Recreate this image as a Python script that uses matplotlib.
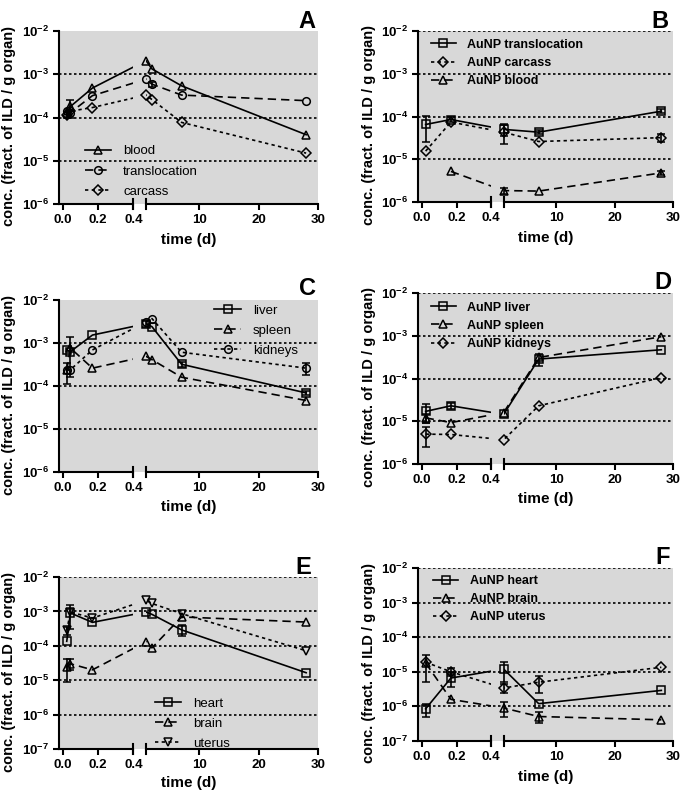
import numpy as np
import matplotlib
matplotlib.use('Agg')
from matplotlib import pyplot as plt
from matplotlib.lines import Line2D
from matplotlib.ticker import FixedLocator, FuncFormatter, NullLocator

plt.rcParams['font.family'] = ['Liberation Sans', 'DejaVu Sans']
plt.rcParams['mathtext.fontset'] = 'custom'
plt.rcParams['mathtext.bf'] = 'Liberation Sans:bold'
plt.rcParams['mathtext.rm'] = 'Liberation Sans'

nan = np.nan

# time points (days)
t_left = [0.021, 0.042, 0.167, 1, 2, 7, 28]
t_right = [0.021, 0.167, 1, 7, 28]

# A
a_blood = [1.25e-4, 1.8e-4, 4.8e-4, 2.07e-3, 1.33e-3, 5.4e-4, 4.0e-5]
a_blood_err = [nan, 0.8e-4, nan, nan, nan, nan, nan]
a_transl = [1.4e-4, 1.3e-4, 3.2e-4, 7.7e-4, 5.9e-4, 3.3e-4, 2.45e-4]
a_transl_err = [nan, nan, nan, nan, 0.8e-4, nan, nan]
a_carcass = [1.15e-4, 1.4e-4, 1.7e-4, 3.3e-4, 2.6e-4, 7.7e-5, 1.5e-5]
a_carcass_err = [0.2e-4, nan, nan, nan, nan, nan, nan]

# B
b_transl = [6.5e-5, 8.5e-5, 5.0e-5, 4.3e-5, 1.33e-4]
b_transl_err = [4e-5, 1e-5, 1.5e-5, 0.5e-5, 1.5e-5]
b_carcass = [1.55e-5, 7.4e-5, 4.3e-5, 2.6e-5, 3.2e-5]
b_carcass_err = [nan, nan, 2e-5, nan, 0.6e-5]
b_blood = [nan, 5.2e-6, 1.85e-6, 1.8e-6, 4.8e-6]
b_blood_err = [nan, nan, 0.3e-6, nan, 0.6e-6]

# C
c_liver = [6.9e-4, 6.3e-4, 1.53e-3, 2.8e-3, 2.4e-3, 3.2e-4, 6.9e-5]
c_liver_err = [nan, nan, nan, 0.4e-3, nan, 0.4e-4, 0.6e-5]
c_spleen = [2.3e-4, 7.6e-4, 2.6e-4, 4.9e-4, 4.1e-4, 1.6e-4, 4.6e-5]
c_spleen_err = [nan, 6e-4, nan, nan, nan, nan, nan]
c_kidneys = [2.3e-4, 2.4e-4, 6.9e-4, 3.1e-3, 3.7e-3, 6.1e-4, 2.6e-4]
c_kidneys_err = [1.2e-4, nan, nan, nan, nan, nan, 0.8e-4]

# D
d_liver = [1.7e-5, 2.3e-5, 1.45e-5, 2.85e-4, 4.7e-4]
d_liver_err = [0.8e-5, 0.4e-5, nan, 0.9e-4, nan]
d_spleen = [1.2e-5, 9.3e-6, 1.6e-5, 3.1e-4, 9.5e-4]
d_spleen_err = [0.3e-5, nan, nan, nan, nan]
d_kidneys = [5.0e-6, 4.9e-6, 3.7e-6, 2.3e-5, 1.05e-4]
d_kidneys_err = [2.5e-6, nan, nan, nan, nan]

# E
e_heart = [1.35e-4, 9.0e-4, 4.8e-4, 9.6e-4, 8.2e-4, 2.9e-4, 1.65e-5]
e_heart_err = [nan, 6e-4, nan, nan, nan, 1e-4, nan]
e_brain = [2.5e-5, 3.0e-5, 2.0e-5, 1.3e-4, 8.7e-5, 6.9e-4, 4.9e-4]
e_brain_err = [1.6e-5, 1e-5, nan, nan, nan, nan, nan]
e_uterus = [2.8e-4, 9.6e-4, 6.4e-4, 2.1e-3, 1.7e-3, 8.6e-4, 7.2e-5]
e_uterus_err = [0.8e-4, nan, nan, nan, nan, nan, nan]

# F
f_heart = [8.5e-7, 6.6e-6, 1.2e-5, 1.2e-6, 2.9e-6]
f_heart_err = [3.5e-7, 3e-6, 7e-6, nan, nan]
f_brain = [1.8e-5, 1.6e-6, 9e-7, 5.1e-7, 4.1e-7]
f_brain_err = [1.3e-5, nan, 4e-7, 1.8e-7, nan]
f_uterus = [1.9e-5, 1.0e-5, 3.4e-6, 5.0e-6, 1.35e-5]
f_uterus_err = [nan, 2.5e-6, 1e-6, 2.5e-6, nan]

# broken x axis: 0..0.4 | gap | 1..30
xs_map = [-0.023, 0.4, 1, 30]
us_map = [0, 74, 86.5, 257.5]


def fwd(x):
    return np.interp(x, xs_map, us_map)


def inv(u):
    return np.interp(u, us_map, xs_map)


bg = '#d8d8d8'
solid = '-'
longdash = (0, (5, 3))
shortdash = (0, (2, 2))

W, H = 685, 791
fig = plt.figure(figsize=(W / 100, H / 100), dpi=100)


def make_panel(box, letter, letter_xy, ymin, grid, series, t, leg_xy, leg_bold,
               ylab_x, xlab_y):
    left, right, top, bottom = box
    ax = fig.add_axes([left / W, 1 - bottom / H, (right - left) / W, (bottom - top) / H])
    ax.set_xscale('function', functions=(fwd, inv))
    ax.set_yscale('log')
    ax.set_xlim(-0.023, 30)
    ax.set_ylim(ymin, 1e-2)
    ax.set_facecolor(bg)
    for s in ['top', 'right', 'bottom']:
        ax.spines[s].set_visible(False)
    ax.spines['left'].set_linewidth(1.5)

    for g in grid:
        ax.axhline(g, color='k', lw=1.2, ls=(0, (1.5, 1.5)), zorder=3)

    handles = []
    for y, err, label, mk, ls in series:
        ax.plot(t, y, color='k', lw=1.2, ls=ls, zorder=2)
        ax.errorbar(t, y, yerr=err, fmt=mk, ms=5.5, mfc='none', mec='k', mew=1.1,
                    ecolor='k', elinewidth=1.2, capsize=3, capthick=1.2, zorder=4)
        handles.append(Line2D([], [], color='k', lw=1.2, ls=ls, marker=mk, ms=5.5,
                              mfc='none', mec='k', mew=1.1, label=label))

    # hide lines inside the axis break
    ax.axvspan(0.4, 1, color=bg, lw=0, zorder=2.5)

    # broken bottom axis
    tr = ax.get_xaxis_transform()
    ax.plot([-0.023, 0.4], [0, 0], transform=tr, color='k', lw=1.5, clip_on=False, zorder=5)
    ax.plot([1, 30], [0, 0], transform=tr, color='k', lw=1.5, clip_on=False, zorder=5)
    for xb in [0.4, 1]:
        ax.plot([xb, xb], [-0.03, 0.03], transform=tr, color='k', lw=1.5,
                clip_on=False, zorder=5)

    ax.set_xticks([0, 0.2, 0.4, 10, 20, 30])
    ax.set_xticklabels(['0.0', '0.2', '0.4', '10', '20', '30'])
    ax.xaxis.set_minor_locator(NullLocator())
    decades = [10.0 ** k for k in range(int(round(np.log10(ymin))), -1)]
    ax.yaxis.set_major_locator(FixedLocator(decades))
    ax.yaxis.set_minor_locator(NullLocator())
    ax.yaxis.set_major_formatter(FuncFormatter(
        lambda v, p: r'$\mathbf{10^{%d}}$' % int(round(np.log10(v)))))
    ax.tick_params(axis='both', direction='out', length=4, width=1.5, labelsize=9.5, pad=3)
    for lab in ax.get_xticklabels():
        lab.set_fontweight('bold')

    ax.set_xlabel('time (d)', fontsize=11, fontweight='bold')
    ax.xaxis.set_label_coords(0.5, xlab_y)
    ax.set_ylabel('conc. (fract. of ILD / g organ)', fontsize=10.5, fontweight='bold')
    ax.yaxis.set_label_coords(ylab_x, 0.45)

    leg = ax.legend(handles=handles, loc='upper left', bbox_to_anchor=leg_xy,
                    frameon=False, borderaxespad=0, borderpad=0, handlelength=2.0,
                    handletextpad=0.9, labelspacing=0.5 if leg_bold else 0.6,
                    prop={'size': 9.5 if not leg_bold else 9,
                          'weight': 'bold' if leg_bold else 'normal'})
    leg.set_zorder(6)

    fig.text(letter_xy[0] / W, 1 - letter_xy[1] / H, letter, fontsize=17,
             fontweight='bold', ha='center', va='center')
    return ax


make_panel((59, 318, 31, 204), 'A', (307, 21), 1e-6, [1e-3, 1e-4, 1e-5],
           [(a_blood, a_blood_err, 'blood', '^', solid),
            (a_transl, a_transl_err, 'translocation', 'o', longdash),
            (a_carcass, a_carcass_err, 'carcass', 'D', shortdash)],
           t_left, (0.10, 0.34), False, -0.165, -0.165)

make_panel((418, 673, 31, 202), 'B', (660, 21), 1e-6, [1e-2, 1e-3, 1e-4, 1e-5],
           [(b_transl, b_transl_err, 'AuNP translocation', 's', solid),
            (b_carcass, b_carcass_err, 'AuNP carcass', 'D', shortdash),
            (b_blood, b_blood_err, 'AuNP blood', '^', longdash)],
           t_right, (0.05, 0.955), True, -0.165, -0.172)

make_panel((59, 318, 300, 472), 'C', (307, 288), 1e-6, [1e-3, 1e-4, 1e-5],
           [(c_liver, c_liver_err, 'liver', 's', solid),
            (c_spleen, c_spleen_err, 'spleen', '^', longdash),
            (c_kidneys, c_kidneys_err, 'kidneys', 'o', shortdash)],
           t_left, (0.60, 0.975), False, -0.165, -0.16)

make_panel((418, 673, 293, 464), 'D', (663, 283), 1e-6, [1e-2, 1e-3, 1e-4, 1e-5],
           [(d_liver, d_liver_err, 'AuNP liver', 's', solid),
            (d_spleen, d_spleen_err, 'AuNP spleen', '^', longdash),
            (d_kidneys, d_kidneys_err, 'AuNP kidneys', 'D', shortdash)],
           t_right, (0.05, 0.95), True, -0.165, -0.161)

make_panel((59, 318, 577, 749), 'E', (303, 567), 1e-7, [1e-2, 1e-3, 1e-4, 1e-5, 1e-6],
           [(e_heart, e_heart_err, 'heart', 's', solid),
            (e_brain, e_brain_err, 'brain', '^', longdash),
            (e_uterus, e_uterus_err, 'uterus', 'v', shortdash)],
           t_left, (0.37, 0.30), False, -0.165, -0.158)

make_panel((418, 673, 568, 741), 'F', (663, 557), 1e-7, [1e-2, 1e-3, 1e-4, 1e-5, 1e-6],
           [(f_heart, f_heart_err, 'AuNP heart', 's', solid),
            (f_brain, f_brain_err, 'AuNP brain', '^', longdash),
            (f_uterus, f_uterus_err, 'AuNP uterus', 'D', shortdash)],
           t_right, (0.06, 0.96), True, -0.165, -0.165)

fig.savefig('out.png', dpi=100)
